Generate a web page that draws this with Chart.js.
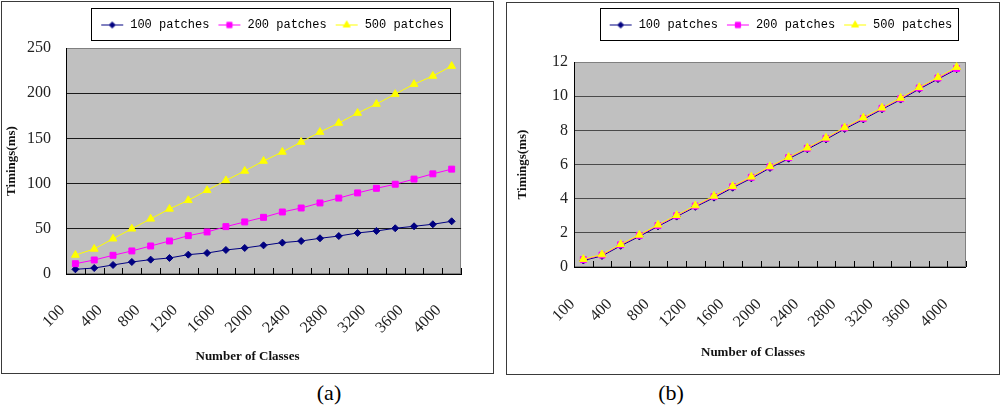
<!DOCTYPE html>
<html>
<head>
<meta charset="utf-8">
<script src="https://cdn.jsdelivr.net/npm/chart.js@4.4.1/dist/chart.umd.min.js"></script>
<style>
  html, body { margin: 0; padding: 0; background: #fff; }
  body { width: 1000px; height: 407px; position: relative; overflow: hidden; }
  .box { position: absolute; box-sizing: border-box; border: 1px solid #3a3a3a; height: 373px; }
  .box canvas { display: block; }
  .cap { position: absolute; font-family: "Liberation Serif", serif; font-size: 22px; color: #000; transform: translateX(-50%); }
</style>
</head>
<body>
<div class="box" style="left:1px; top:1px; width:493px;"><canvas id="chartA" width="491" height="371"></canvas></div>
<div class="box" style="left:506px; top:2px; width:494px;"><canvas id="chartB" width="492" height="371"></canvas></div>
<div class="cap" style="left:329px; top:380px;">(a)</div>
<div class="cap" style="left:671px; top:380px;">(b)</div>
<script>
var classLabels = ["100", "200", "400", "600", "800", "1000", "1200", "1400", "1600", "1800", "2000",
  "2200", "2400", "2600", "2800", "3000", "3200", "3400", "3600", "3800", "4000"];
var seriesNames = ["100 patches", "200 patches", "500 patches"];

// (a)
var timesA100 = [5.2, 6.6, 10, 13.3, 15.9, 17.7, 21.4, 23.2, 26.6, 28.8, 31.7, 34.7, 36.5, 39.5, 42, 45.4, 47.6, 50.6, 52.8, 55, 58.3];
var timesA200 = [11.4, 15.5, 20.7, 25.5, 31, 36.5, 42.4, 46.5, 52.4, 57.6, 62.7, 68.6, 73, 78.6, 84, 89.7, 94.8, 99.3, 105, 110.8, 116];
var timesA500 = [21, 27.7, 39, 50, 61, 72, 81.5, 92.6, 103.5, 114, 125, 135, 146, 157, 167, 178, 188, 199, 210, 219, 230];
var ticksA = [0, 50, 100, 150, 200, 250];

// (b)
var timesB100 = [0.38, 0.65, 1.24, 1.79, 2.38, 2.95, 3.52, 4.06, 4.64, 5.19, 5.80, 6.34, 6.89, 7.47, 8.08, 8.64, 9.23, 9.80, 10.42, 11.00, 11.58];
var timesB200 = [0.43, 0.70, 1.30, 1.85, 2.43, 3.00, 3.57, 4.12, 4.70, 5.25, 5.86, 6.40, 6.95, 7.53, 8.14, 8.70, 9.29, 9.85, 10.48, 11.06, 11.62];
var timesB500 = [0.46, 0.73, 1.33, 1.88, 2.47, 3.03, 3.60, 4.16, 4.73, 5.28, 5.89, 6.43, 6.98, 7.56, 8.17, 8.74, 9.32, 9.89, 10.52, 11.10, 11.70];
var ticksB = [0, 2, 4, 6, 8, 10, 12];

var lineColors = ["#000080", "#ff00ff", "#ffff00"];
var markerStyles = ["rectRot", "rect", "triangle"];
var markerSizes = [3.5, 4.2, 4.5];

// little line+marker picture used as the legend symbol
function legendSample(i) {
  var c = document.createElement("canvas");
  c.width = 24; c.height = 11;
  var g = c.getContext("2d");
  g.strokeStyle = lineColors[i];
  g.fillStyle = lineColors[i];
  g.lineWidth = 1;
  g.beginPath(); g.moveTo(1, 5.5); g.lineTo(23, 5.5); g.stroke();
  Chart.helpers.drawPoint(g, { pointStyle: markerStyles[i], radius: markerSizes[i] - 0.5, borderWidth: 1, rotation: 0 }, 12, 5.5);
  return c;
}
var samples = [legendSample(0), legendSample(1), legendSample(2)];

var excelLook = {
  id: "excelLook",
  afterLayout: function (chart, args, opts) {
    chart.legend.left += opts.legendShift;
    chart.legend.right += opts.legendShift;
  },
  beforeDraw: function (chart) {
    var a = chart.chartArea, ctx = chart.ctx;
    ctx.save();
    ctx.fillStyle = "#c0c0c0";
    ctx.fillRect(a.left, a.top, a.right - a.left, a.bottom - a.top);
    ctx.strokeStyle = "#808080";
    ctx.lineWidth = 1;
    ctx.strokeRect(Math.round(a.left) + 0.5, Math.round(a.top) + 0.5, Math.round(a.right - a.left) - 1, Math.round(a.bottom - a.top) - 1);
    ctx.restore();
  },
  beforeDatasetsDraw: function (chart) {
    // tick marks between categories, pointing into the plot
    var x = chart.scales.x, ctx = chart.ctx, bottom = chart.chartArea.bottom;
    ctx.save();
    ctx.strokeStyle = "#000";
    ctx.lineWidth = 1;
    ctx.beginPath();
    for (var i = 0; i <= classLabels.length; i++) {
      var px = Math.round(x.getPixelForValue(i - 0.5)) + 0.5;
      ctx.moveTo(px, bottom);
      ctx.lineTo(px, bottom - 6);
    }
    ctx.stroke();
    ctx.restore();
  },
  afterDraw: function (chart) {
    var hb = chart.legend.legendHitBoxes, ctx = chart.ctx;
    if (!hb || !hb.length) return;
    var last = hb[hb.length - 1];
    var l = Math.round(hb[0].left - 9), r = Math.round(last.left + last.width + 6);
    var mid = hb[0].top + hb[0].height / 2;
    ctx.save();
    ctx.strokeStyle = "#000";
    ctx.lineWidth = 1;
    ctx.strokeRect(l + 0.5, Math.round(mid - 17) + 0.5, r - l, 32);
    ctx.restore();
  }
};

function makeChart(id, series, yTicks, g) {
  var yMax = yTicks[yTicks.length - 1];
  var datasets = series.map(function (data, i) {
    return {
      label: seriesNames[i],
      data: data,
      order: series.length - i,
      borderColor: lineColors[i],
      backgroundColor: lineColors[i],
      borderWidth: 1,
      pointStyle: markerStyles[i],
      pointRadius: markerSizes[i],
      pointBorderWidth: 1,
      pointBackgroundColor: lineColors[i],
      pointBorderColor: lineColors[i],
      tension: 0,
      clip: false
    };
  });
  return new Chart(document.getElementById(id), {
    type: "line",
    data: { labels: classLabels, datasets: datasets },
    plugins: [excelLook],
    options: {
      responsive: false,
      animation: false,
      layout: { padding: { top: g.topPad, left: 0, right: 0, bottom: 0 } },
      scales: {
        x: {
          offset: true,
          grid: { display: false, drawTicks: false, offset: true },
          border: { display: true, color: "#000" },
          ticks: {
            autoSkip: false, minRotation: 45, maxRotation: 45,
            padding: g.xTickPad, labelOffset: g.xLabelShift,
            color: "#222", font: { family: "Liberation Serif", size: 16 },
            callback: function (v, i) { return i % 2 === 0 ? classLabels[i] : ""; }
          },
          afterFit: function (s) { s.height = g.xHeight; }
        },
        y: {
          min: yTicks[0], max: yMax,
          ticks: {
            stepSize: yTicks[1] - yTicks[0], padding: g.yTickPad,
            color: "#222", font: { family: "Liberation Serif", size: 16 }
          },
          grid: {
            drawTicks: false, lineWidth: 1,
            color: function (c) { return c.tick && c.tick.value === yMax ? "#808080" : g.gridColor; }
          },
          border: { display: true, color: "#000" },
          title: {
            display: true, text: "Timings(ms)", color: "#111",
            font: { family: "Liberation Serif", size: 13, weight: "bold" },
            padding: { top: g.yTitlePad, bottom: 0 }
          },
          afterFit: function (s) { s.width = g.yWidth; }
        },
        gap: {
          position: "right", display: true,
          ticks: { display: false }, grid: { display: false, drawTicks: false }, border: { display: false },
          afterFit: function (s) { s.width = g.rightGap; }
        }
      },
      plugins: {
        legend: {
          position: "top", fullSize: false, weight: 3000,
          labels: {
            color: "#000", font: { family: "Liberation Mono", size: 12 },
            usePointStyle: true, pointStyleWidth: 24, padding: 8,
            generateLabels: function (chart) {
              return chart.data.datasets.map(function (ds, i) {
                return { text: ds.label, pointStyle: samples[i], fillStyle: ds.borderColor, strokeStyle: ds.borderColor, lineWidth: 0, hidden: false, datasetIndex: i };
              });
            }
          }
        },
        subtitle: {
          display: true, text: "", position: "top", fullSize: false,
          font: { size: 1, lineHeight: 1 }, padding: { top: 0, bottom: g.legendGap }
        },
        title: {
          display: true, text: "Number of Classes", position: "bottom", fullSize: true, color: "#111",
          font: { family: "Liberation Serif", size: 13, weight: "bold", lineHeight: 1.2 },
          padding: { top: 0, bottom: g.xTitlePad }
        },
        tooltip: { enabled: false },
        excelLook: { legendShift: g.legendShift }
      }
    }
  });
}

var chartA = makeChart("chartA", [timesA100, timesA200, timesA500], ticksA, {
  topPad: 9, legendGap: 6, legendShift: 8.5, yWidth: 64, rightGap: 27, yTickPad: 15, yTitlePad: 2,
  xHeight: 75.2, xTickPad: 27, xLabelShift: -13, xTitlePad: 8.2, gridColor: "#1a1a1a"
});
var chartB = makeChart("chartB", [timesB100, timesB200, timesB500], ticksB, {
  topPad: 8, legendGap: 20, legendShift: 10.5, yWidth: 67, rightGap: 26, yTickPad: 6, yTitlePad: 8,
  xHeight: 78.2, xTickPad: 28, xLabelShift: -11, xTitlePad: 13.2, gridColor: "#4a4a4a"
});
</script>
</body>
</html>
